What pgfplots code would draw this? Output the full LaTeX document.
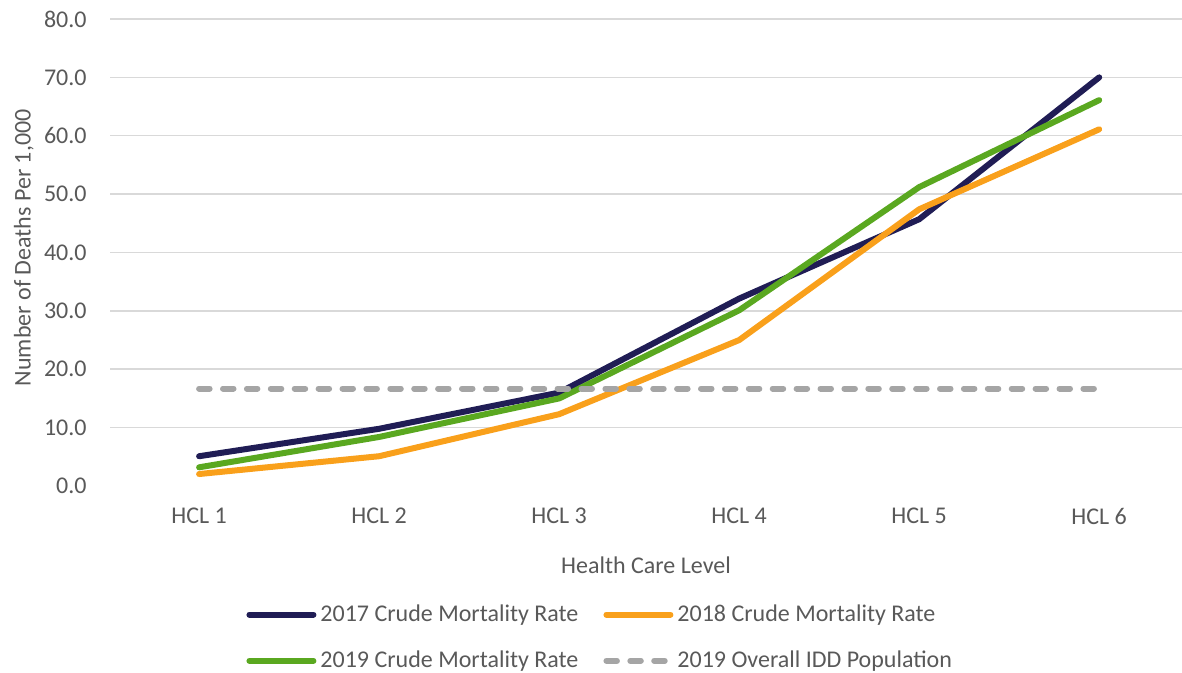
\documentclass[border=0pt]{standalone}
\usepackage{fontspec}
\setmainfont{Carlito}
\usepackage{pgfplots}
\pgfplotsset{compat=1.18}
\definecolor{cnavy}{HTML}{201D55}
\definecolor{corange}{HTML}{F9A01B}
\definecolor{cgreen}{HTML}{5AA820}
\definecolor{cgray}{HTML}{A5A5A5}
\definecolor{gridgray}{HTML}{D9D9D9}
\definecolor{txtgray}{HTML}{595959}
\begin{document}
\fontsize{12}{14.4}\selectfont
\begin{tikzpicture}[x=1pt,y=1pt]
\useasboundingbox (0,0) rectangle (591,336.5);
\begin{axis}[
  at={(55pt,93.5pt)}, anchor=south west,
  scale only axis, width=536pt, height=233.5pt,
  xmin=0.505, xmax=6.46, ymin=0, ymax=80,
  axis line style={draw=none},
  major tick length=0pt,
  xtick={1,2,3,4,5,6},
  xticklabels={HCL 1,HCL 2,HCL 3,HCL 4,HCL 5,HCL 6},
  ytick={10,20,30,40,50,60,70,80},
  extra y ticks={0},
  extra y tick style={grid=none},
  ymajorgrids,
  grid style={color=gridgray, line width=0.75pt},
  /pgf/number format/assume math mode=true,
  yticklabel style={/pgf/number format/.cd, fixed, fixed zerofill, precision=1, /tikz/.cd, inner sep=0pt, xshift=-11.5pt, text=txtgray, font=\fontsize{12}{14.4}\selectfont},
  xticklabel style={inner sep=0pt, yshift=-11pt, text=txtgray, font=\fontsize{12}{14.4}\selectfont},
  xlabel={Health Care Level},
  xlabel style={at={(axis description cs:0.5,0)}, anchor=north, inner sep=0pt, yshift=-35.3pt, text=txtgray, font=\fontsize{12}{14.4}\selectfont},
  ylabel={Number of Deaths Per 1,000},
  ylabel style={at={(axis description cs:-0.0900,0.51)}, anchor=north, inner sep=0pt, text=txtgray, font=\fontsize{12}{14.4}\selectfont},
  legend columns=2,
  legend cell align=left,
  legend image code/.code={\draw[#1] (0pt,0pt) -- (32pt,0pt);},
  legend style={at={(axis description cs:0.1269,-0.2441)}, anchor=north west, draw=none, fill=none, inner sep=0pt, text=txtgray, font=\fontsize{12}{14.4}\selectfont, /tikz/row sep=9pt, /tikz/every even column/.append style={column sep=10.5pt}},
  every axis plot/.append style={line width=3pt, line cap=round, line join=round},
]
\addplot[color=cnavy] coordinates {(1,5.1) (2,9.8) (3,16.0) (4,32.1) (5,45.7) (6,70.0)};
\addlegendentry{2017 Crude Mortality Rate}
\addplot[color=corange] coordinates {(1,2.05) (2,5.1) (3,12.3) (4,25.0) (5,47.4) (6,61.1)};
\addlegendentry{2018 Crude Mortality Rate}
\addplot[color=cgreen] coordinates {(1,3.2) (2,8.4) (3,15.0) (4,30.1) (5,51.2) (6,66.1)};
\addlegendentry{2019 Crude Mortality Rate}
\addplot[color=cgray, dash pattern=on 5.25pt off 6.7pt] coordinates {(1,16.7) (2,16.7) (3,16.7) (4,16.7) (5,16.7) (6,16.7)};
\addlegendentry{2019 Overall IDD Population}
\end{axis}
\end{tikzpicture}
\end{document}
